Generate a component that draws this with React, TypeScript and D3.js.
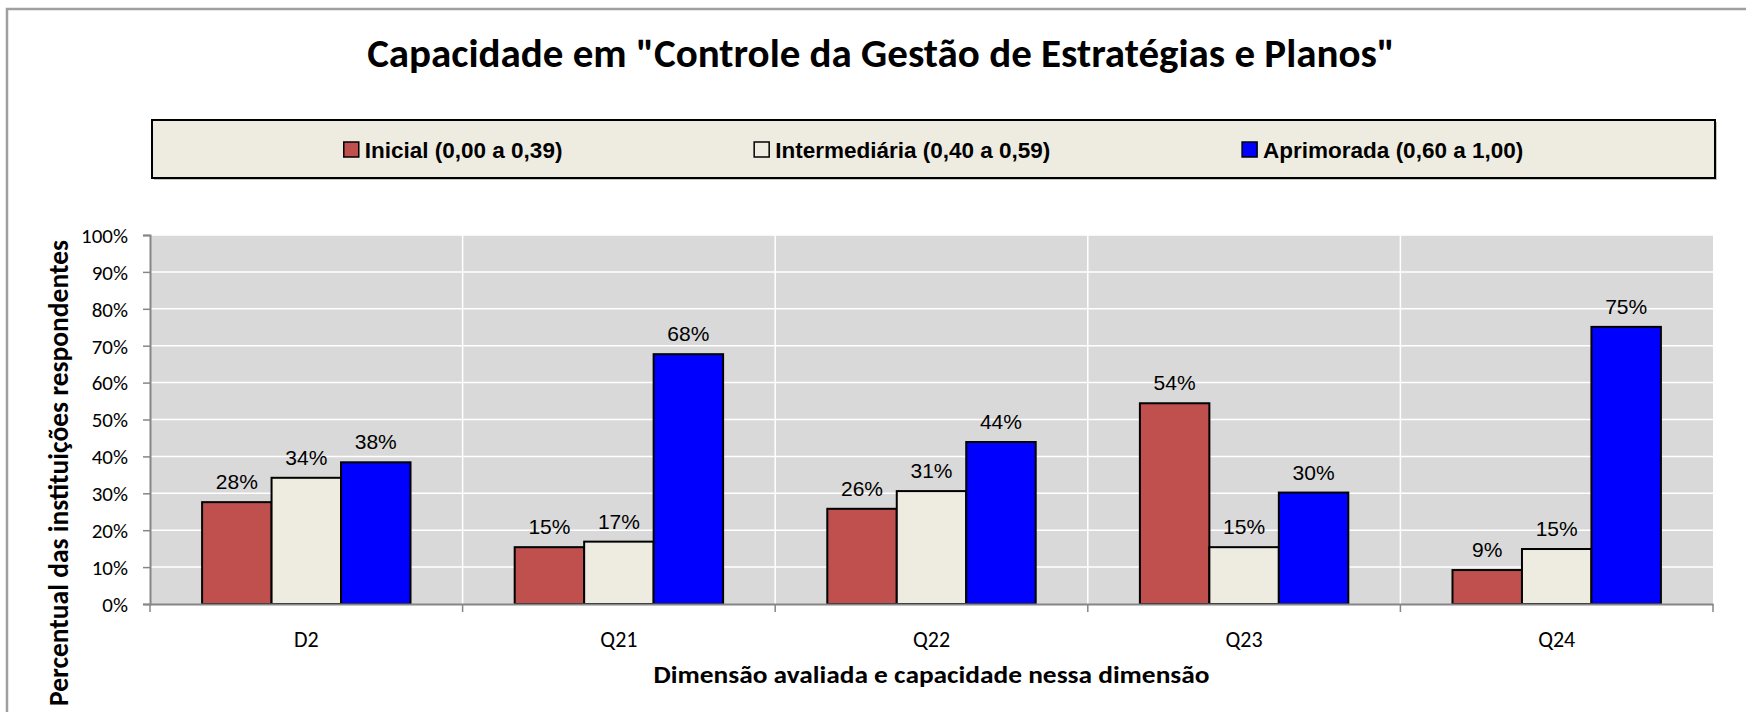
import React, { useRef, useEffect } from 'react';
import * as d3 from 'd3';

// Chart data
const categories = ['D2', 'Q21', 'Q22', 'Q23', 'Q24'];
const seriesNames = ['Inicial (0,00 a 0,39)', 'Intermediária (0,40 a 0,59)', 'Aprimorada (0,60 a 1,00)'];
const seriesColors = ['#C0504D', '#EEECE1', '#0000FF'];
const inicial = [27.6, 15.4, 25.8, 54.4, 9.2];
const intermediaria = [34.2, 16.9, 30.6, 15.4, 14.9];
const aprimorada = [38.4, 67.7, 43.9, 30.2, 75.1];
const yTicks = [0, 10, 20, 30, 40, 50, 60, 70, 80, 90, 100];

const title = 'Capacidade em "Controle da Gestão de Estratégias e Planos"';
const xTitle = 'Dimensão avaliada e capacidade nessa dimensão';
const yTitle = 'Percentual das instituições respondentes';

const W = 1746;
const H = 712;
const plot = { left: 150, right: 1713, top: 235, bottom: 604 };
const legendBox = { x: 152, y: 120, w: 1563, h: 58 };

const calibri = "Carlito, Calibri, Lato, sans-serif";
const arial = "'Liberation Sans', Arial, sans-serif";

const App: React.FC = () => {
  const svgRef = useRef<SVGSVGElement | null>(null);

  useEffect(() => {
    if (!svgRef.current) return;
    const svg = d3.select(svgRef.current);
    svg.selectAll('*').remove();

    const series = [inicial, intermediaria, aprimorada];

    const x = d3.scaleBand<string>().domain(categories).range([plot.left, plot.right]).padding(0);
    const xInner = d3
      .scaleBand<number>()
      .domain([0, 1, 2])
      .range([0, x.bandwidth()])
      .paddingInner(0)
      .paddingOuter(0.75);
    const y = d3.scaleLinear().domain([0, 100]).range([plot.bottom, plot.top]);

    // outer frame (only top and left visible)
    svg
      .append('path')
      .attr('d', `M7,${H} L7,9 L${W},9`)
      .attr('fill', 'none')
      .attr('stroke', '#a0a0a0')
      .attr('stroke-width', 2.5);

    // title
    svg
      .append('text')
      .attr('x', 881)
      .attr('y', 67)
      .attr('text-anchor', 'middle')
      .style('font-family', calibri)
      .style('font-weight', 'bold')
      .style('font-size', '41px')
      .text(title);

    // legend
    const lg = svg.append('g');
    lg.append('rect')
      .attr('x', legendBox.x + 2)
      .attr('y', legendBox.y + 2)
      .attr('width', legendBox.w)
      .attr('height', legendBox.h)
      .attr('fill', '#c8c8c0');
    lg.append('rect')
      .attr('x', legendBox.x)
      .attr('y', legendBox.y)
      .attr('width', legendBox.w)
      .attr('height', legendBox.h)
      .attr('fill', '#EEECE1')
      .attr('stroke', '#000')
      .attr('stroke-width', 2);

    const items = seriesNames.map((name, i) => {
      const g = lg.append('g');
      g.append('rect')
        .attr('x', 0)
        .attr('y', legendBox.y + 22)
        .attr('width', 15)
        .attr('height', 15)
        .attr('fill', seriesColors[i])
        .attr('stroke', '#000')
        .attr('stroke-width', 1.5);
      const t = g
        .append('text')
        .attr('x', 21)
        .attr('y', legendBox.y + 38)
        .style('font-family', arial)
        .style('font-weight', 'bold')
        .style('font-size', '22.5px')
        .text(name);
      const w = 21 + (t.node() as SVGTextElement).getComputedTextLength();
      return { g, w };
    });
    const totalW = d3.sum(items, (d) => d.w);
    const gap = (legendBox.w - totalW) / (items.length + 1);
    let cx = legendBox.x + gap;
    items.forEach((it) => {
      it.g.attr('transform', `translate(${cx},0)`);
      cx += it.w + gap;
    });

    // plot background
    svg
      .append('rect')
      .attr('x', plot.left)
      .attr('y', plot.top)
      .attr('width', plot.right - plot.left)
      .attr('height', plot.bottom - plot.top)
      .attr('fill', '#D9D9D9');

    // horizontal gridlines
    svg
      .append('g')
      .selectAll('line')
      .data(yTicks.filter((t) => t > 0))
      .enter()
      .append('line')
      .attr('x1', plot.left)
      .attr('x2', plot.right)
      .attr('y1', (d) => y(d))
      .attr('y2', (d) => y(d))
      .attr('stroke', '#fff')
      .attr('stroke-width', 1.5);

    // vertical gridlines at category boundaries
    svg
      .append('g')
      .selectAll('line')
      .data(categories.slice(1))
      .enter()
      .append('line')
      .attr('x1', (d) => x(d) as number)
      .attr('x2', (d) => x(d) as number)
      .attr('y1', plot.top)
      .attr('y2', plot.bottom)
      .attr('stroke', '#fff')
      .attr('stroke-width', 1.5);

    // bars
    series.forEach((vals, si) => {
      svg
        .append('g')
        .selectAll('rect')
        .data(vals)
        .enter()
        .append('rect')
        .attr('x', (_, i) => (x(categories[i]) as number) + (xInner(si) as number))
        .attr('y', (d) => y(d))
        .attr('width', xInner.bandwidth())
        .attr('height', (d) => y(0) - y(d))
        .attr('fill', seriesColors[si])
        .attr('stroke', '#000')
        .attr('stroke-width', 2);

      svg
        .append('g')
        .selectAll('text')
        .data(vals)
        .enter()
        .append('text')
        .attr('x', (_, i) => (x(categories[i]) as number) + (xInner(si) as number) + xInner.bandwidth() / 2)
        .attr('y', (d) => y(d) - 13)
        .attr('text-anchor', 'middle')
        .style('font-family', arial)
        .style('font-size', '21px')
        .attr('fill', '#000')
        .text((d) => `${Math.round(d)}%`);
    });

    // y axis
    const yAxis = svg
      .append('g')
      .attr('transform', `translate(${plot.left},0)`)
      .call(
        d3
          .axisLeft(y)
          .tickValues(yTicks)
          .tickSize(7)
          .tickPadding(15)
          .tickFormat((d) => `${d}%`)
      );
    yAxis.select('.domain').attr('stroke', '#868686').attr('stroke-width', 2);
    yAxis.selectAll('.tick line').attr('stroke', '#868686').attr('stroke-width', 1.5);
    yAxis
      .selectAll('.tick text')
      .attr('dy', '0.35em')
      .style('font-family', calibri)
      .style('font-size', '21px')
      .attr('fill', '#000');

    // x axis
    const xAxis = svg
      .append('g')
      .attr('transform', `translate(0,${plot.bottom})`)
      .call(d3.axisBottom(x).tickSize(0).tickPadding(27));
    xAxis.select('.domain').attr('stroke', '#868686').attr('stroke-width', 2);
    xAxis
      .selectAll('.tick text')
      .style('font-family', calibri)
      .style('font-size', '22px')
      .attr('fill', '#000');
    xAxis
      .append('g')
      .selectAll('line')
      .data([...categories.map((c) => x(c) as number), plot.right])
      .enter()
      .append('line')
      .attr('x1', (d) => d)
      .attr('x2', (d) => d)
      .attr('y1', 0)
      .attr('y2', 8)
      .attr('stroke', '#868686')
      .attr('stroke-width', 1.5);

    // axis titles
    svg
      .append('text')
      .attr('x', (plot.left + plot.right) / 2)
      .attr('y', 683)
      .attr('text-anchor', 'middle')
      .attr('textLength', 556)
      .attr('lengthAdjust', 'spacingAndGlyphs')
      .style('font-family', calibri)
      .style('font-weight', 'bold')
      .style('font-size', '24px')
      .text(xTitle);

    // squeezed a little so it ends just above the bottom edge
    svg
      .append('text')
      .attr('transform', `translate(68,240) rotate(-90)`)
      .attr('text-anchor', 'end')
      .attr('textLength', 466)
      .attr('lengthAdjust', 'spacingAndGlyphs')
      .style('font-family', calibri)
      .style('font-weight', 'bold')
      .style('font-size', '28px')
      .text(yTitle);
  }, []);

  return (
    <svg
      ref={svgRef}
      width={W}
      height={H}
      style={{ position: 'absolute', left: 0, top: 0, background: '#fff' }}
    />
  );
};

export default App;
